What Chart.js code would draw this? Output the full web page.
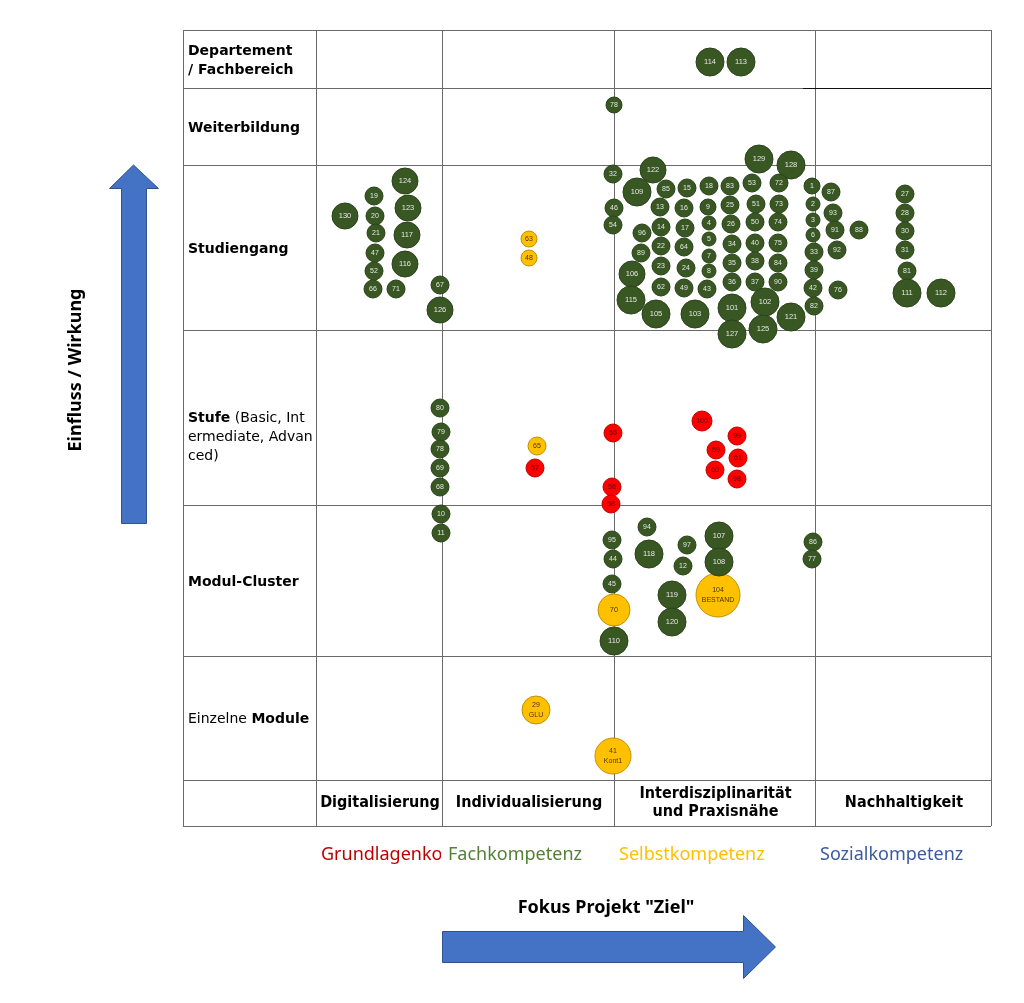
<!DOCTYPE html>
<html>
<head>
<meta charset="utf-8">
<script src="https://cdn.jsdelivr.net/npm/chart.js@4.4.0/dist/chart.umd.min.js"></script>
<style>
  body { margin: 0; background: #fff; }
  canvas { display: block; }
</style>
</head>
<body>
<canvas id="matrixChart" width="1024" height="1003"></canvas>
<script>
// grid boundaries, in chart units
const columnEdges = [183, 316, 442, 614, 815, 991];
const rowEdges = [30, 88, 165, 330, 505, 656, 780, 826];

// **text** = bold
const rowLabels = [
    ['**Departement**', '**/ Fachbereich**'],
    ['**Weiterbildung**'],
    ['**Studiengang**'],
    ['**Stufe** (Basic, Int', 'ermediate, Advan', 'ced)'],
    ['**Modul-Cluster**'],
    ['Einzelne **Module**']
];
const columnLabels = [
    ['Digitalisierung'],
    ['Individualisierung'],
    ['Interdisziplinarität', 'und Praxisnähe'],
    ['Nachhaltigkeit']
];
const competenceNames = ['Grundlagenkompetenz', 'Fachkompetenz', 'Selbstkompetenz', 'Sozialkompetenz'];

// [label, x, y, size]
const grundlagen = [
    ['57', 535, 468, 9], ['55', 613, 433, 9], ['56', 612, 487, 9], ['58', 611, 504, 9],
    ['100', 702, 421, 10], ['99', 737, 436, 9], ['59', 716, 450, 9], ['61', 738, 458, 9],
    ['60', 715, 470, 9], ['98', 737, 479, 9]
];

const fach = [
    // Departement / Weiterbildung
    ['114', 710, 62, 14], ['113', 741, 62, 14], ['78', 614, 105, 8],
    ['129', 759, 159, 14], ['128', 791, 165, 14],
    // Studiengang - Digitalisierung
    ['124', 405, 181, 13], ['19', 374, 196, 9], ['130', 345, 216, 13], ['20', 375, 216, 9],
    ['123', 408, 208, 13], ['21', 376, 233, 9], ['117', 407, 235, 13], ['47', 375, 253, 9],
    ['116', 405, 264, 13], ['52', 374, 271, 9], ['66', 373, 289, 9], ['71', 396, 289, 9],
    ['67', 440, 285, 9], ['126', 440, 310, 13],
    // Studiengang - Interdisziplinaritaet
    ['32', 613, 174, 9], ['122', 653, 170, 13], ['109', 637, 192, 14], ['85', 666, 189, 9],
    ['15', 687, 188, 9], ['18', 709, 186, 9], ['83', 730, 186, 9], ['53', 752, 183, 9],
    ['72', 779, 183, 9], ['1', 812, 186, 8],
    ['46', 614, 208, 9], ['13', 660, 207, 9], ['16', 684, 208, 9], ['9', 708, 207, 8],
    ['25', 730, 205, 9], ['51', 756, 204, 9], ['73', 779, 204, 9], ['2', 813, 204, 7],
    ['54', 613, 225, 9], ['96', 642, 233, 9], ['14', 661, 227, 9], ['17', 685, 228, 9],
    ['4', 709, 223, 7], ['26', 731, 224, 9], ['50', 755, 222, 9], ['74', 778, 222, 9], ['3', 813, 220, 7],
    ['22', 661, 246, 9], ['64', 684, 247, 9], ['5', 709, 239, 7], ['34', 732, 244, 9],
    ['40', 755, 243, 9], ['75', 778, 243, 9], ['6', 813, 235, 7],
    ['89', 641, 253, 9], ['7', 709, 256, 7], ['35', 732, 263, 9], ['38', 755, 261, 9],
    ['84', 778, 263, 9], ['33', 814, 252, 9],
    ['106', 632, 274, 13], ['23', 661, 266, 9], ['24', 686, 268, 9], ['8', 709, 271, 7],
    ['36', 732, 282, 9], ['37', 755, 282, 9], ['90', 778, 282, 9], ['39', 814, 270, 9],
    ['62', 661, 287, 9], ['49', 684, 288, 9], ['43', 707, 289, 9], ['42', 813, 288, 9],
    ['115', 631, 300, 14], ['105', 656, 314, 14], ['103', 695, 314, 14], ['101', 732, 308, 14],
    ['102', 765, 302, 14], ['82', 814, 306, 9], ['121', 791, 317, 14], ['127', 732, 334, 14],
    ['125', 763, 329, 14],
    // Studiengang - Nachhaltigkeit
    ['87', 831, 192, 9], ['93', 833, 213, 9], ['91', 835, 230, 9], ['88', 859, 230, 9],
    ['92', 837, 250, 9], ['76', 838, 290, 9], ['27', 905, 194, 9], ['28', 905, 213, 9],
    ['30', 905, 231, 9], ['31', 905, 250, 9], ['81', 907, 271, 9], ['111', 907, 293, 14],
    ['112', 941, 293, 14],
    // Stufe
    ['80', 440, 408, 9], ['79', 441, 432, 9], ['78', 440, 449, 9], ['69', 440, 468, 9], ['68', 440, 487, 9],
    // Modul-Cluster
    ['10', 441, 514, 9], ['11', 441, 533, 9], ['94', 647, 527, 9], ['95', 612, 540, 9],
    ['118', 649, 554, 14], ['97', 687, 545, 9], ['107', 719, 536, 14], ['44', 613, 559, 9],
    ['12', 683, 566, 9], ['108', 719, 562, 14], ['86', 813, 542, 9], ['77', 812, 559, 9],
    ['45', 612, 584, 9], ['119', 672, 595, 14], ['120', 672, 622, 14], ['110', 614, 641, 14]
];

const selbst = [
    ['63', 529, 239, 8], ['48', 529, 258, 8], ['65', 537, 446, 9],
    ['70', 614, 610, 16], ['104\nBESTAND', 718, 595, 22],
    ['29\nGLU', 536, 710, 14], ['41\nKont1', 613, 756, 18]
];

const sozial = [];

const toPoints = list => list.map(p => ({ x: p[1], y: p[2], r: p[3], label: p[0] }));

const competenceFill = ['#ff0000', '#385723', '#ffc000', '#4472c4'];
const competenceBorder = ['#c00000', '#2b431b', '#bf9000', '#2f528f'];
const competenceText = ['#5a0000', '#e6e6e6', '#4a3500', '#ffffff'];
const legendColors = ['#c00000', '#538135', '#ffc000', '#3a5ba0'];
const legendX = [321, 448, 619, 820];

// grid lines under the bubbles
const gridPlugin = {
    id: 'gridLines',
    beforeDatasetsDraw(chart) {
        const { ctx, scales: { x, y } } = chart;
        ctx.save();
        ctx.strokeStyle = '#6a6a6a';
        ctx.lineWidth = 1;
        columnEdges.forEach(edge => {
            const px = Math.round(x.getPixelForValue(edge)) + 0.5;
            ctx.beginPath();
            ctx.moveTo(px, y.getPixelForValue(rowEdges[0]));
            ctx.lineTo(px, y.getPixelForValue(rowEdges[rowEdges.length - 1]));
            ctx.stroke();
        });
        rowEdges.forEach(edge => {
            const py = Math.round(y.getPixelForValue(edge)) + 0.5;
            ctx.beginPath();
            ctx.moveTo(x.getPixelForValue(columnEdges[0]), py);
            ctx.lineTo(x.getPixelForValue(columnEdges[columnEdges.length - 1]), py);
            ctx.stroke();
        });
        // darker rule under the top right cell
        ctx.strokeStyle = '#111';
        ctx.beginPath();
        ctx.moveTo(x.getPixelForValue(803), Math.round(y.getPixelForValue(rowEdges[1])) + 0.5);
        ctx.lineTo(x.getPixelForValue(991), Math.round(y.getPixelForValue(rowEdges[1])) + 0.5);
        ctx.stroke();
        ctx.restore();
    }
};

// numbers inside the bubbles
const bubbleLabelPlugin = {
    id: 'bubbleLabels',
    afterDatasetsDraw(chart) {
        const { ctx } = chart;
        ctx.save();
        ctx.textAlign = 'center';
        ctx.textBaseline = 'middle';
        chart.data.datasets.forEach((ds, i) => {
            const meta = chart.getDatasetMeta(i);
            ctx.fillStyle = ds.textColor;
            meta.data.forEach((el, j) => {
                const lines = ds.data[j].label.split('\n');
                const size = lines.length > 1 ? 7 : (ds.data[j].r >= 13 ? 7.5 : 7);
                ctx.font = size + 'px "Liberation Sans Narrow", "Liberation Sans", sans-serif';
                lines.forEach((line, k) => {
                    ctx.fillText(line, el.x, el.y + (k - (lines.length - 1) / 2) * 10);
                });
            });
        });
        ctx.restore();
    }
};

function drawRich(ctx, text, x, y, size) {
    const parts = text.split('**');
    let cx = x;
    parts.forEach((part, i) => {
        if (!part) return;
        ctx.font = (i % 2 ? 'bold ' : '') + size + 'px "DejaVu Sans", sans-serif';
        ctx.fillText(part, cx, y);
        cx += ctx.measureText(part).width;
    });
}

// row / column headings, legend and the two arrows
const framePlugin = {
    id: 'frameText',
    afterDraw(chart) {
        const { ctx, scales: { x, y } } = chart;
        ctx.save();
        ctx.fillStyle = '#000';
        ctx.textBaseline = 'middle';
        ctx.textAlign = 'left';

        rowLabels.forEach((lines, i) => {
            const mid = (y.getPixelForValue(rowEdges[i]) + y.getPixelForValue(rowEdges[i + 1])) / 2;
            const startY = i === 3 ? mid + 1 : mid + 1.5 - (lines.length - 1) / 2 * 19;
            lines.forEach((line, k) => drawRich(ctx, line, x.getPixelForValue(columnEdges[0]) + 5, startY + k * 19, 14));
        });

        ctx.textAlign = 'center';
        ctx.font = 'bold 16px "DejaVu Sans Condensed", "DejaVu Sans", sans-serif';
        const yTop = y.getPixelForValue(rowEdges[rowEdges.length - 2]);
        const yBot = y.getPixelForValue(rowEdges[rowEdges.length - 1]);
        columnLabels.forEach((lines, i) => {
            const cx = (x.getPixelForValue(columnEdges[i + 1]) + x.getPixelForValue(columnEdges[i + 2])) / 2 + 1;
            const cy = (yTop + yBot) / 2;
            lines.forEach((line, k) => ctx.fillText(line, cx, cy + (k - (lines.length - 1) / 2) * 18));
        });

        // legend text only, first name is cut off by the next one
        ctx.textAlign = 'left';
        ctx.font = '18px "Noto Sans", sans-serif';
        competenceNames.forEach((name, i) => {
            ctx.save();
            if (i < competenceNames.length - 1) {
                ctx.beginPath();
                ctx.rect(legendX[i], 830, legendX[i + 1] - legendX[i] - 7, 50);
                ctx.clip();
            }
            ctx.fillStyle = legendColors[i];
            ctx.fillText(name, legendX[i], 855);
            ctx.restore();
        });

        // arrows
        ctx.fillStyle = '#4472c4';
        ctx.strokeStyle = '#2f528f';
        ctx.lineWidth = 1;
        ctx.beginPath();
        ctx.moveTo(121.5, 523.5);
        ctx.lineTo(121.5, 188.5);
        ctx.lineTo(109.5, 188.5);
        ctx.lineTo(133.5, 165);
        ctx.lineTo(158.5, 188.5);
        ctx.lineTo(146.5, 188.5);
        ctx.lineTo(146.5, 523.5);
        ctx.closePath();
        ctx.fill();
        ctx.stroke();

        ctx.beginPath();
        ctx.moveTo(442.5, 931.5);
        ctx.lineTo(743.5, 931.5);
        ctx.lineTo(743.5, 915.5);
        ctx.lineTo(775.5, 947);
        ctx.lineTo(743.5, 978.5);
        ctx.lineTo(743.5, 962.5);
        ctx.lineTo(442.5, 962.5);
        ctx.closePath();
        ctx.fill();
        ctx.stroke();

        ctx.fillStyle = '#000';
        ctx.font = 'bold 18px "Noto Sans", sans-serif';
        ctx.textAlign = 'center';
        ctx.fillText('Fokus Projekt "Ziel"', 606, 908);
        ctx.translate(76, 370);
        ctx.rotate(-Math.PI / 2);
        ctx.fillText('Einfluss / Wirkung', 0, 0);
        ctx.restore();
    }
};

const datasets = [grundlagen, fach, selbst, sozial].map((list, i) => ({
    label: competenceNames[i],
    data: toPoints(list),
    backgroundColor: competenceFill[i],
    borderColor: competenceBorder[i],
    textColor: competenceText[i],
    borderWidth: 1,
    hoverRadius: 0,
    clip: false
}));

// draw the green ones first so red/yellow sit on top like in the original
const order = [1, 0, 2, 3];

new Chart(document.getElementById('matrixChart'), {
    type: 'bubble',
    data: { datasets: order.map(i => datasets[i]) },
    options: {
        responsive: false,
        animation: false,
        events: [],
        layout: { autoPadding: false, padding: { left: 183, right: 33, top: 30, bottom: 177 } },
        scales: {
            x: { type: 'linear', min: columnEdges[0], max: columnEdges[columnEdges.length - 1], display: false },
            y: { type: 'linear', min: rowEdges[0], max: rowEdges[rowEdges.length - 1], reverse: true, display: false }
        },
        plugins: {
            legend: { display: false },
            tooltip: { enabled: false }
        }
    },
    plugins: [gridPlugin, bubbleLabelPlugin, framePlugin]
});
</script>
</body>
</html>
